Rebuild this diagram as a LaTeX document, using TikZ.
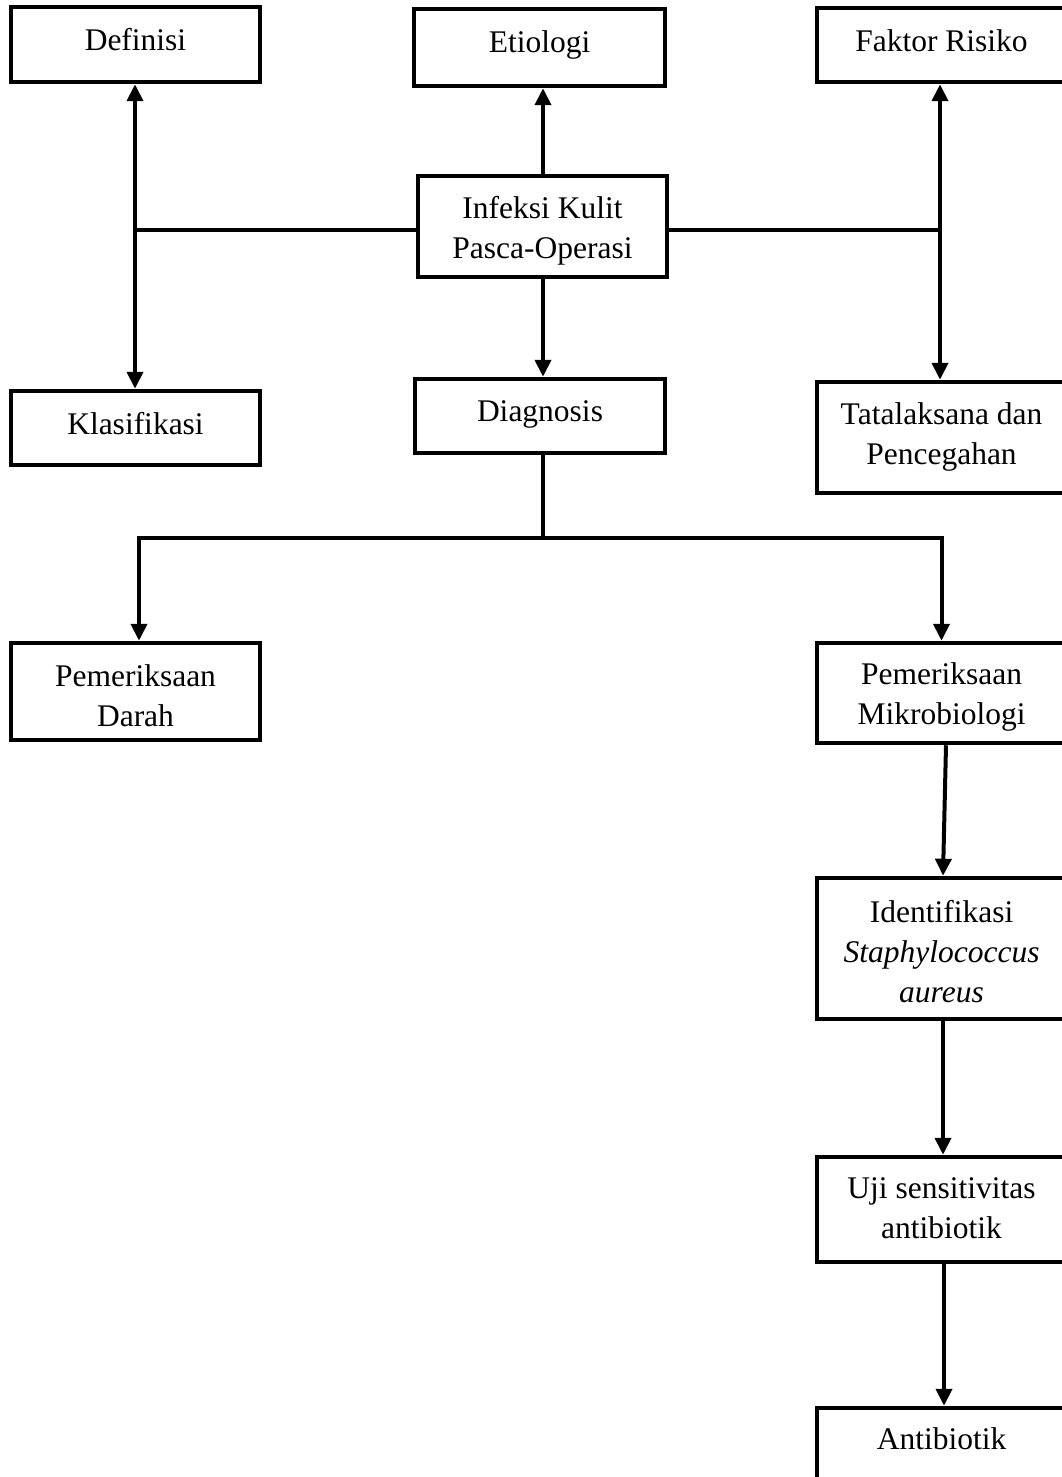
\documentclass[tikz,border=0pt]{standalone}
\usepackage{fontspec}
\setmainfont{Liberation Serif}
\usetikzlibrary{arrows.meta,calc}
\begin{document}
\begin{tikzpicture}[x=1pt,y=-1pt,
  box/.style={draw,line width=4.5pt,minimum width=249pt,inner sep=0pt,line join=miter},
  lbl/.style={anchor=north,align=center,inner sep=0pt,font=\fontsize{31.5}{40}\selectfont},
  conn/.style={line width=4pt,-{Triangle[width=16pt,length=17pt]}},
  bi/.style={line width=4pt,{Triangle[width=16pt,length=17pt]}-{Triangle[width=16pt,length=17pt]}},
  plain/.style={line width=4pt}]
\useasboundingbox (0,0) rectangle (1062,1477);
\clip (0,0) rectangle (1062,1477);
% boxes
\node[box,minimum height=75pt] (def) at (135.5,44.5) {};
\node[box,minimum width=251pt,minimum height=77pt] (eti) at (539.5,47.5) {};
\node[box,minimum height=74pt] (fak) at (941.5,45) {};
\node[box,minimum height=101pt] (inf) at (542.5,226.5) {};
\node[box,minimum height=74pt] (kla) at (135.5,428) {};
\node[box,minimum width=250pt,minimum height=74pt] (dia) at (540,416) {};
\node[box,minimum height=111pt] (tat) at (941.5,437.5) {};
\node[box,minimum height=97pt] (pd) at (135.5,691.5) {};
\node[box,minimum height=100pt] (pm) at (941.5,693) {};
\node[box,minimum height=141pt] (idf) at (941.5,948.5) {};
\node[box,minimum height=105pt] (uji) at (941.5,1209.5) {};
\node[box,minimum height=92pt] (ant) at (941.5,1454) {};
% texts
\node[lbl] (tdef) at ([yshift=-18pt]def.north) {\strut Definisi};
\node[lbl] (teti) at ([yshift=-18pt]eti.north) {\strut Etiologi};
\node[lbl] (tfak) at ([yshift=-18pt]fak.north) {\strut Faktor Risiko};
\node[lbl] (tinf) at ([yshift=-17pt]inf.north) {\strut Infeksi Kulit\\\strut Pasca-Operasi};
\node[lbl] (tkla) at ([yshift=-18pt]kla.north) {\strut Klasifikasi};
\node[lbl] (tdia) at ([yshift=-17pt]dia.north) {\strut Diagnosis};
\node[lbl] (ttat) at ([yshift=-17pt]tat.north) {\strut Tatalaksana dan\\\strut Pencegahan};
\node[lbl] (tpd) at ([yshift=-18pt]pd.north) {\strut Pemeriksaan\\\strut Darah};
\node[lbl] (tpm) at ([yshift=-16pt]pm.north) {\strut Pemeriksaan\\\strut Mikrobiologi};
\node[lbl] (tidf) at ([yshift=-19pt]idf.north) {\strut Identifikasi\\\strut\textit{Staphylococcus}\\\strut\textit{aureus}};
\node[lbl] (tuji) at ([yshift=-16pt]uji.north) {\strut Uji sensitivitas\\\strut antibiotik};
\node[lbl] (tant) at ([yshift=-16pt]ant.north) {\strut Antibiotik};
% connectors
\coordinate (hl) at (135,230);
\coordinate (hr) at (940,230);
\coordinate (j) at (543,538);
\draw[bi] ([xshift=-0.5pt]def.south) -- ([xshift=-0.5pt]kla.north);
\draw[plain] (inf.west |- hl) -- (hl);
\draw[plain] (inf.east |- hr) -- (hr);
\draw[bi] ([xshift=-1.5pt]fak.south) -- ([xshift=-1.5pt]tat.north);
\draw[conn] (inf.north -| j) -- (eti.south -| j);
\draw[conn] (inf.south -| j) -- (dia.north -| j);
\draw[plain] (dia.south -| j) -- (j);
\draw[conn] (j) -| ([xshift=3.5pt]pd.north);
\draw[conn] (j) -| (pm.north);
\draw[conn] ([xshift=4.5pt]pm.south) -- ([xshift=1.5pt]idf.north);
\draw[conn] ([xshift=1.5pt]idf.south) -- ([xshift=1.5pt]uji.north);
\draw[conn] ([xshift=2.5pt]uji.south) -- ([xshift=2.5pt]ant.north);
\end{tikzpicture}
\end{document}
